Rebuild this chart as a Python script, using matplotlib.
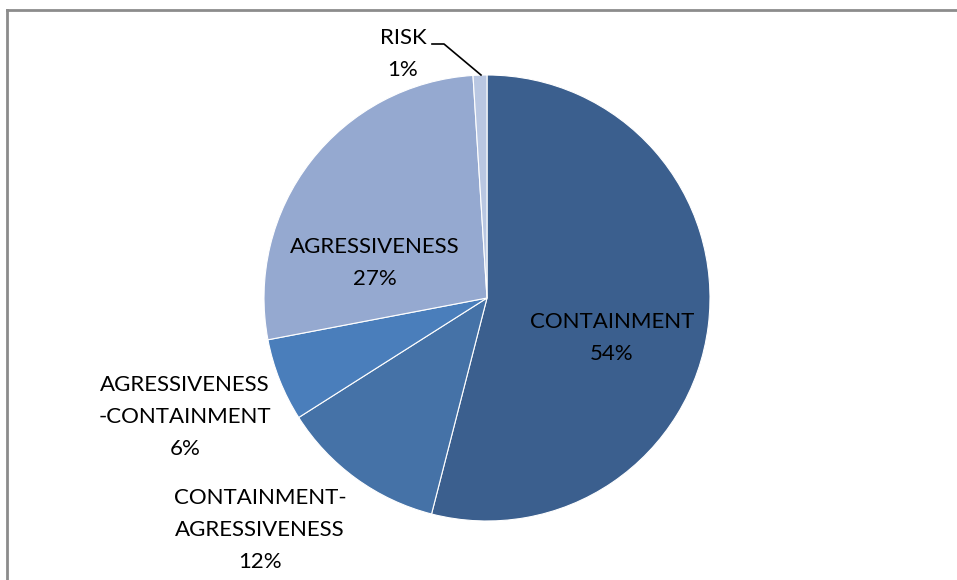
import matplotlib
matplotlib.use("Agg")
import matplotlib.pyplot as plt
from matplotlib.lines import Line2D

categories = ["CONTAINMENT", "CONTAINMENT-\nAGRESSIVENESS", "AGRESSIVENESS\n-CONTAINMENT", "AGRESSIVENESS", "RISK"]
values = [54, 12, 6, 27, 1]
colors = ["#3B5F8E", "#4572A7", "#4A7EBB", "#95A9D0", "#B9C7E2"]

W, H = 957, 580
fig = plt.figure(figsize=(W / 100, H / 100), dpi=100)
fig.patch.set_facecolor("white")

cx, cy, r = 487, 298, 223
ax = fig.add_axes([(cx - r) / W, (H - cy - r) / H, 2 * r / W, 2 * r / H])
ax.pie(values, colors=colors, startangle=90, counterclock=False, radius=1,
       wedgeprops=dict(edgecolor="white", linewidth=0.8))
ax.set_xlim(-1, 1)
ax.set_ylim(-1, 1)
ax.set_aspect("equal")
ax.axis("off")

def px(x, y):
    return ((x - cx) / r, (cy - y) / r)

label_pos = [(612, 338), (260, 530), (185, 417), (375, 263), (403, 54)]
font = dict(family=["Lato", "DejaVu Sans"], fontsize=16, color="black", ha="center", va="center",
            linespacing=1.78)
for cat, v, (lx, ly) in zip(categories, values, label_pos):
    x, y = px(lx, ly)
    ax.text(x, y, f"{cat}\n{v}%", clip_on=False, **font)

# leader line for RISK
lx = [432, 444, 481]
ly = [44, 44, 75]
pts = [px(a, b) for a, b in zip(lx, ly)]
ax.plot([p[0] for p in pts], [p[1] for p in pts], color="black", lw=1.2, clip_on=False)

# chart frame
fig.add_artist(Line2D([7 / W, 1], [1 - 10 / H, 1 - 10 / H], transform=fig.transFigure, color="#8C8C8C", lw=2))
fig.add_artist(Line2D([7 / W, 7 / W], [0, 1 - 10 / H], transform=fig.transFigure, color="#8C8C8C", lw=2))

fig.savefig("out.png", dpi=100, facecolor="white")
